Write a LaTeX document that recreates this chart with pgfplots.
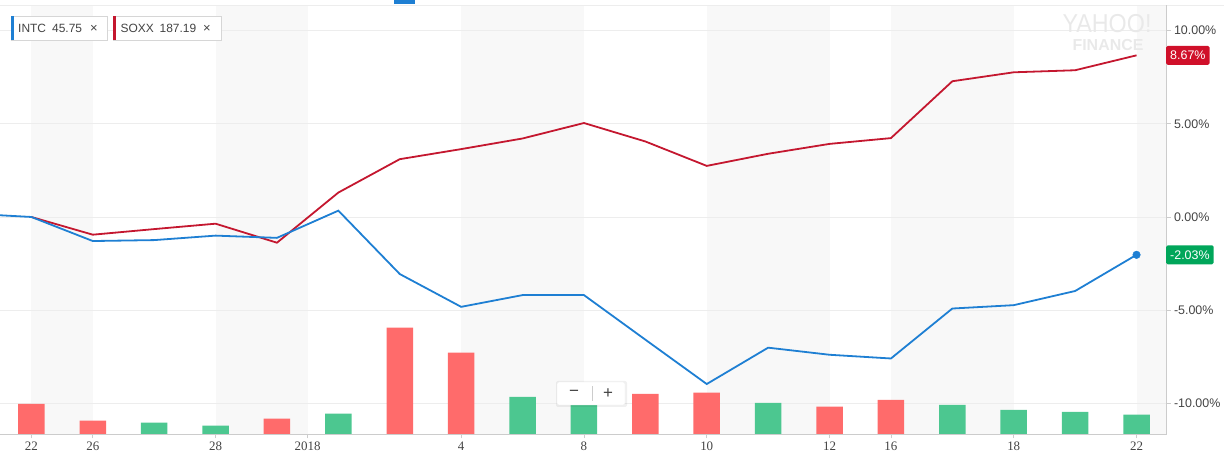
\documentclass[border=0pt]{standalone}
\usepackage{pgfplots}
\pgfplotsset{compat=1.18}
\usepackage{fontspec}
\setmainfont{Liberation Sans}
\newfontfamily\seriffont{Liberation Serif}
\definecolor{intc}{HTML}{1E7FD3}
\definecolor{soxx}{HTML}{C4172F}
\definecolor{volup}{HTML}{4CC790}
\definecolor{voldown}{HTML}{FF6B6B}
\definecolor{band}{HTML}{F8F8F8}
\definecolor{gridc}{HTML}{EDEDED}
\definecolor{axisc}{HTML}{CCCCCC}
\definecolor{lblred}{HTML}{D0102A}
\definecolor{lblgreen}{HTML}{00A65A}
\definecolor{txt}{HTML}{444444}
\definecolor{wm}{HTML}{E9E9E9}

\begin{document}
\begin{tikzpicture}
\begin{scope}[x=1bp,y=1bp]
% alternating background bands (between date labels)
\fill[band] (31.37,33) rectangle (92.77,462);
\fill[band] (215.56,33) rectangle (307.66,462);
\fill[band] (461.15,33) rectangle (583.94,462);
\fill[band] (706.73,33) rectangle (829.53,462);
\fill[band] (890.92,33) rectangle (1013.7,462);
\fill[band] (1136.5,33) rectangle (1166,462);
% top rule and tab marker
\draw[color=gridc, line width=0.8bp] (0,462) -- (1224,462);
\fill[intc] (394,463) rectangle (415,467);
\end{scope}

\begin{axis}[
  at={(0bp,33bp)}, anchor=south west, scale only axis,
  width=1166bp, height=429bp,
  xmin=-0.511, xmax=18.48, ymin=-11.64, ymax=11.37,
  axis line style={draw=none},
  xtick pos=bottom, ytick pos=right, yticklabel pos=right,
  xtick={0,1,3,4.5,7,9,11,13,14,16,18},
  xticklabels={22,26,28,2018,4,8,10,12,16,18,22},
  ytick={-10,-5,0,5,10},
  yticklabels={-10.00\%,-5.00\%,0.00\%,5.00\%,10.00\%},
  ymajorgrids, grid style={gridc, line width=0.8bp},
  tick align=outside, major tick length=4.5bp,
  tick style={axisc, line width=0.8bp},
  xticklabel style={font=\seriffont\fontsize{13}{13}\selectfont, text=txt},
  yticklabel style={font=\fontsize{12.5}{13}\selectfont, text=txt, anchor=west},
]
% SOXX
\addplot[color=soxx, line width=1.8bp, mark=none] coordinates {
(0,0) (1,-0.95) (2,-0.65) (3,-0.36) (4,-1.38) (5,1.31) (6,3.10) (7,3.64)
(8,4.21) (9,5.04) (10,4.05) (11,2.74) (12,3.39) (13,3.92) (14,4.23)
(15,7.28) (16,7.76) (17,7.87) (18,8.67)};
% INTC
\addplot[color=intc, line width=1.8bp, mark=none] coordinates {
(-1,0.18) (0,0) (1,-1.29) (2,-1.24) (3,-1.00) (4,-1.12) (5,0.34) (6,-3.06)
(7,-4.82) (8,-4.19) (9,-4.19) (10,-6.58) (11,-8.96) (12,-7.01) (13,-7.39)
(14,-7.59) (15,-4.91) (16,-4.73) (17,-3.97) (18,-2.03)};
\addplot[only marks, mark=*, mark size=3.8bp, color=intc] coordinates {(18,-2.03)};
\end{axis}

% volume bars
\begin{axis}[
  at={(0bp,33bp)}, anchor=south west, scale only axis,
  width=1166bp, height=429bp,
  xmin=-0.511, xmax=18.48, ymin=0, ymax=429,
  hide axis, ybar, bar width=26.5bp, bar shift=0pt,
]
\addplot[fill=voldown, draw=none] coordinates {
(0,30) (1,13.3) (4,15.3) (6,106.3) (7,81.3) (10,40) (11,41.3) (13,27.3) (14,34)};
\addplot[fill=volup, draw=none] coordinates {
(2,11.3) (3,8.3) (5,20.3) (8,37) (9,29.5) (12,31) (15,29) (16,24) (17,22) (18,19.3)};
\end{axis}

\begin{scope}[x=1bp,y=1bp]
% axis lines (bottom and right)
\draw[axisc, line width=0.8bp] (0,33) -- (1166,33) -- (1166,462);

% last-value labels (y = 33 + (v+11.64)*429/23.01)
\node[fill=lblred, text=white, anchor=west, inner xsep=4bp, inner ysep=0pt,
      minimum height=19bp, rounded corners=1.5bp,
      font=\fontsize{12.5}{13}\selectfont] at (1166,411.6) {8.67\%};
\node[fill=lblgreen, text=white, anchor=west, inner xsep=4bp, inner ysep=0pt,
      minimum height=19bp, rounded corners=1.5bp,
      font=\fontsize{12.5}{13}\selectfont] at (1166,212.2) {-2.03\%};

% legend chips
\draw[fill=white, draw=axisc!80, line width=0.7bp] (11,427) rectangle (107,451);
\fill[intc] (11,427) rectangle (14,451);
\node[anchor=base west, inner sep=0pt, text=txt, font=\fontsize{12}{12}\selectfont] at (18,434) {INTC};
\node[anchor=base west, inner sep=0pt, text=txt, font=\fontsize{12}{12}\selectfont] at (52,434) {45.75};
\node[anchor=base west, inner sep=0pt, text=txt, font=\fontsize{13}{13}\selectfont] at (90,434) {×};
\draw[fill=white, draw=axisc!80, line width=0.7bp] (113,427) rectangle (221,451);
\fill[soxx] (113,427) rectangle (116,451);
\node[anchor=base west, inner sep=0pt, text=txt, font=\fontsize{12}{12}\selectfont] at (120.5,434) {SOXX};
\node[anchor=base west, inner sep=0pt, text=txt, font=\fontsize{12}{12}\selectfont] at (159.5,434) {187.19};
\node[anchor=base west, inner sep=0pt, text=txt, font=\fontsize{13}{13}\selectfont] at (203,434) {×};

% watermark
\node[text=wm, xscale=0.9, inner sep=0pt, font=\fontsize{26}{26}\selectfont] at (1107,443) {YAHOO!};
\node[text=wm, inner sep=0pt, font=\bfseries\fontsize{16}{16}\selectfont] at (1108,421.5) {FINANCE};

% zoom control
\fill[black, opacity=0.06, rounded corners=2bp] (556,60) rectangle (627,86);
\draw[fill=white, draw=gridc, rounded corners=2bp] (557,62) rectangle (625,85);
\draw[axisc, line width=0.8bp] (592,66) -- (592,81);
\node[text=txt, inner sep=0pt, font=\fontsize{17}{17}\selectfont] at (574,73.5) {−};
\node[text=txt, inner sep=0pt, font=\fontsize{17}{17}\selectfont] at (608,73.5) {+};
\end{scope}

% fix the page to 1224 x 467
\pgfresetboundingbox
\path[use as bounding box] (0bp,0bp) rectangle (1224bp,467bp);
\end{tikzpicture}
\end{document}
